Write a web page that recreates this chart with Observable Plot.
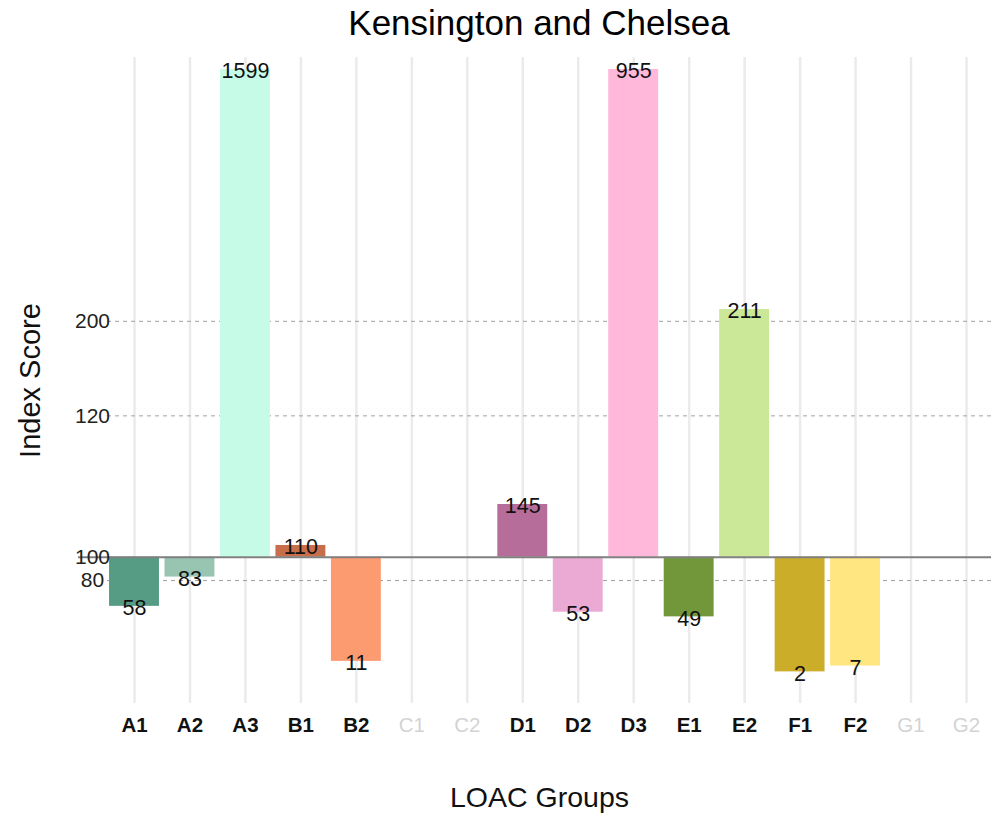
<!DOCTYPE html>
<html><head><meta charset="utf-8">
<script src="https://cdn.jsdelivr.net/npm/d3@7"></script>
<script src="https://cdn.jsdelivr.net/npm/@observablehq/plot@0.6"></script>
<style>
body{margin:0;background:#fff;font-family:"Liberation Sans",Arial,sans-serif;}
#title{height:45px;line-height:45px;margin-left:87px;width:904px;text-align:center;font-size:35px;color:#000;}
#chart svg{display:block;}
</style></head><body>
<div id="title">Kensington and Chelsea</div>
<div id="chart"></div>
<script>
// all LOAC groups on the x axis
const groups = ["A1","A2","A3","B1","B2","C1","C2","D1","D2","D3","E1","E2","F1","F2","G1","G2"];
// groups present in the borough, with their index scores
const presentGroups = ["A1","A2","A3","B1","B2","D1","D2","D3","E1","E2","F1","F2"];
const indexScores = [58, 83, 1599, 110, 11, 145, 53, 955, 49, 211, 2, 7];
const groupColors = ["#569b83","#98c4b2","#c6fbe8","#c86e4b","#fc9a70","#b76d9a","#ebaad4","#ffb7da","#72973b","#cbe798","#cbad2a","#ffe680"];
// y-axis tick positions (on the chart's compressed scale) and their printed labels
const tickValues = [80, 100, 175, 207];
const tickLabels = ["80", "100", "120", "200"];
const dashedTicks = [80, 175, 207];
const baseline = 100;

const data = presentGroups.map((g, i) => ({group: g, value: indexScores[i], color: groupColors[i]}));
const absentGroups = groups.filter(g => !presentGroups.includes(g));
const ticks = tickValues.map((v, i) => ({value: v, label: tickLabels[i]}));

const chart = Plot.plot({
  width: 991,
  height: 768,
  marginTop: 12,
  marginBottom: 110,
  marginLeft: 87,
  marginRight: 0,
  style: {fontFamily: "'Liberation Sans', Arial, sans-serif", background: "#fff"},
  x: {domain: groups, range: [103.5, 996.5], paddingInner: 0.1, paddingOuter: 0.1, round: false, axis: null},
  y: {type: "linear", domain: [-25, 145, 211, 955], range: [658, 459, 264, 24], clamp: true, axis: null},
  marks: [
    Plot.ruleX(groups, {x: d => d, stroke: "#ebebeb", strokeWidth: 2.5}),
    Plot.ruleY(dashedTicks, {y: d => d, stroke: "#a0a0a0", strokeWidth: 1, strokeDasharray: "4,4", insetLeft: 20}),
    Plot.barY(data, {x: "group", y1: baseline, y2: "value", fill: "color"}),
    Plot.ruleY([baseline], {stroke: "#808080", strokeWidth: 2, insetLeft: -9}),
    Plot.text(data, {x: "group", y: "value", text: d => String(d.value), fontSize: 21.5, fill: "#111", dy: 2}),
    Plot.text(ticks, {y: "value", text: "label", frameAnchor: "left", dx: 5, textAnchor: "middle", fontSize: 21, fill: "#222"}),
    Plot.text(presentGroups, {x: d => d, text: d => d, frameAnchor: "bottom", lineAnchor: "middle", dy: 22, fontSize: 20.5, fontWeight: "bold", fill: "#111"}),
    Plot.text(absentGroups, {x: d => d, text: d => d, frameAnchor: "bottom", lineAnchor: "middle", dy: 22, fontSize: 20.5, fill: "#d3d3d3"}),
    Plot.text(["LOAC Groups"], {text: d => d, frameAnchor: "bottom", lineAnchor: "middle", dy: 94, fontSize: 28.5, fill: "#111"}),
    Plot.text(["Index Score"], {text: d => d, frameAnchor: "left", textAnchor: "middle", lineAnchor: "middle", dx: -57, rotate: -90, fontSize: 29, fill: "#111"})
  ]
});
document.getElementById("chart").appendChild(chart);
</script>
</body></html>
